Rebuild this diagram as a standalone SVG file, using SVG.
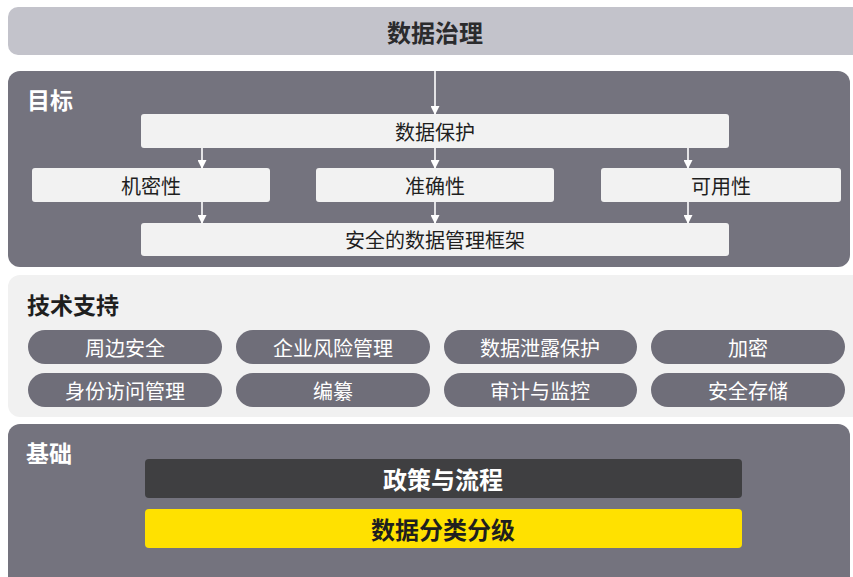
<svg xmlns="http://www.w3.org/2000/svg" width="853" height="577" viewBox="0 0 853 577">
  <style>
    text { font-family: "Noto Sans CJK SC", "Noto Sans", "Liberation Sans", sans-serif; text-anchor: middle; }
    .title { font-size: 24px; font-weight: bold; fill: #2b2b2d; }
    .panel-label { font-size: 23px; font-weight: bold; text-anchor: start; }
    .light-box { fill: #f2f2f2; }
    .box-text { font-size: 20px; fill: #1f1f1f; }
    .pill { fill: #6f6e79; }
    .pill-text { font-size: 20px; fill: #ffffff; }
    .conn { stroke: #ffffff; stroke-width: 1.6; fill: none; marker-end: url(#arrow); }
  </style>
  <defs>
    <marker id="arrow" viewBox="0 0 10 10" refX="9" refY="5" markerWidth="10" markerHeight="9" markerUnits="userSpaceOnUse" orient="auto">
      <path d="M0,0 L10,5 L0,10 Z" fill="#ffffff"/>
    </marker>
  </defs>

  <rect width="853" height="577" fill="#ffffff"/>

  <g id="governance">
    <rect x="8" y="7" width="860" height="48" rx="10" fill="#c3c3cb"/>
    <text class="title" x="435" y="42">数据治理</text>
  </g>

  <g id="goals-panel">
    <rect x="8" y="71" width="842" height="196" rx="12" fill="#74737e"/>
    <text class="panel-label" x="27" y="109" fill="#ffffff">目标</text>
  </g>

  <g id="data-protection">
    <rect class="light-box" x="141" y="114" width="588" height="34" rx="3"/>
    <text class="box-text" x="435" y="140">数据保护</text>
  </g>
  <g id="confidentiality">
    <rect class="light-box" x="32" y="168" width="238" height="34" rx="3"/>
    <text class="box-text" x="151" y="194">机密性</text>
  </g>
  <g id="accuracy">
    <rect class="light-box" x="316" y="168" width="238" height="34" rx="3"/>
    <text class="box-text" x="435" y="194">准确性</text>
  </g>
  <g id="availability">
    <rect class="light-box" x="601" y="168" width="240" height="34" rx="3"/>
    <text class="box-text" x="721" y="194">可用性</text>
  </g>
  <g id="framework">
    <rect class="light-box" x="141" y="223" width="588" height="33" rx="3"/>
    <text class="box-text" x="435" y="248">安全的数据管理框架</text>
  </g>

  <g id="connectors">
    <line class="conn" x1="435" y1="55" x2="435" y2="114"/>
    <line class="conn" x1="202" y1="148" x2="202" y2="168"/>
    <line class="conn" x1="435" y1="148" x2="435" y2="168"/>
    <line class="conn" x1="688" y1="148" x2="688" y2="168"/>
    <line class="conn" x1="202" y1="202" x2="202" y2="223"/>
    <line class="conn" x1="435" y1="202" x2="435" y2="223"/>
    <line class="conn" x1="688" y1="202" x2="688" y2="223"/>
  </g>

  <g id="tech-panel">
    <rect x="8" y="275" width="860" height="142" rx="12" fill="#f1f1f1"/>
    <text class="panel-label" x="27" y="314" fill="#1f1f1f">技术支持</text>
  </g>

  <g id="perimeter-security">
    <rect class="pill" x="28" y="330" width="194" height="34" rx="17"/>
    <text class="pill-text" x="125" y="356">周边安全</text>
  </g>
  <g id="enterprise-risk">
    <rect class="pill" x="236" y="330" width="194" height="34" rx="17"/>
    <text class="pill-text" x="333" y="356">企业风险管理</text>
  </g>
  <g id="dlp">
    <rect class="pill" x="444" y="330" width="193" height="34" rx="17"/>
    <text class="pill-text" x="540" y="356">数据泄露保护</text>
  </g>
  <g id="encryption">
    <rect class="pill" x="651" y="330" width="194" height="34" rx="17"/>
    <text class="pill-text" x="748" y="356">加密</text>
  </g>
  <g id="iam">
    <rect class="pill" x="28" y="373" width="194" height="34" rx="17"/>
    <text class="pill-text" x="125" y="399">身份访问管理</text>
  </g>
  <g id="masking">
    <rect class="pill" x="236" y="373" width="194" height="34" rx="17"/>
    <text class="pill-text" x="333" y="399">编纂</text>
  </g>
  <g id="audit">
    <rect class="pill" x="444" y="373" width="193" height="34" rx="17"/>
    <text class="pill-text" x="540" y="399">审计与监控</text>
  </g>
  <g id="secure-storage">
    <rect class="pill" x="651" y="373" width="194" height="34" rx="17"/>
    <text class="pill-text" x="748" y="399">安全存储</text>
  </g>

  <g id="foundation-panel">
    <rect x="8" y="424" width="842" height="170" rx="12" fill="#74737e"/>
    <text class="panel-label" x="26" y="462" fill="#ffffff">基础</text>
  </g>
  <g id="policy-process">
    <rect x="145" y="459" width="597" height="39" rx="4" fill="#3f3f41"/>
    <text x="443" y="489" style="font-size:24px;font-weight:bold;fill:#ffffff">政策与流程</text>
  </g>
  <g id="classification">
    <rect x="145" y="509" width="597" height="39" rx="4" fill="#ffe100"/>
    <text x="443" y="539" style="font-size:24px;font-weight:bold;fill:#1f1f1f">数据分类分级</text>
  </g>
</svg>
